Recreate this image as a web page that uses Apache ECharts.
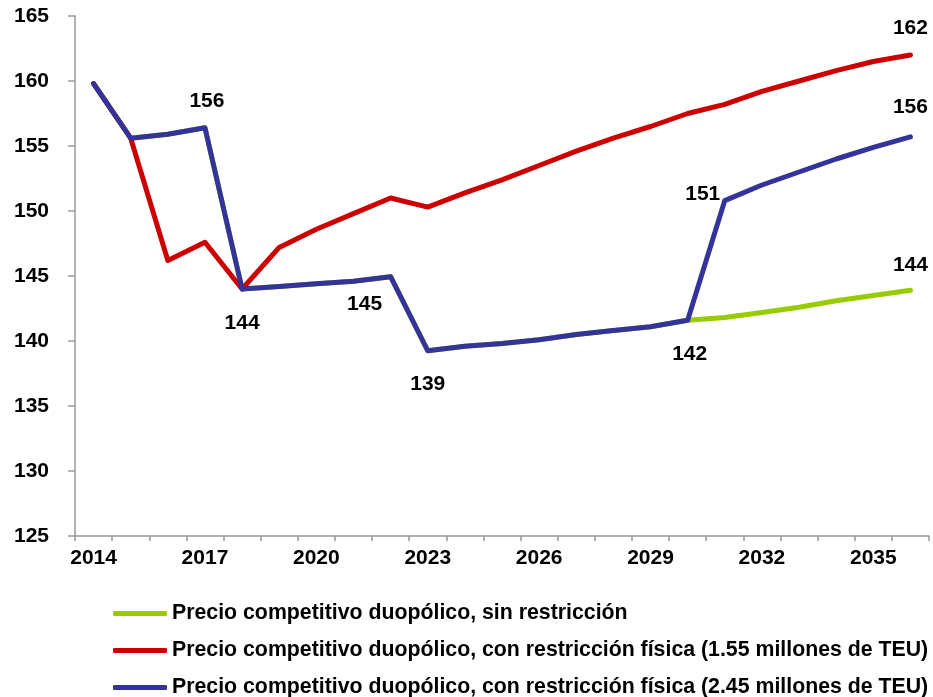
<!DOCTYPE html>
<html>
<head>
<meta charset="utf-8">
<script src="https://cdn.jsdelivr.net/npm/echarts@6/dist/echarts.min.js"></script>
<style>
html,body{margin:0;padding:0;background:#fff;}
#chart{width:933px;height:697px;}
</style>
</head>
<body>
<div id="chart"></div>
<script>
var years = ['2014','2015','2016','2017','2018','2019','2020','2021','2022','2023','2024','2025','2026','2027','2028','2029','2030','2031','2032','2033','2034','2035','2036'];
var seriesNames = [
  'Precio competitivo duopólico, sin restricción',
  'Precio competitivo duopólico, con restricción física (1.55 millones de TEU)',
  'Precio competitivo duopólico, con restricción física (2.45 millones de TEU)'
];
var greenValues = [159.8,155.6,155.9,156.4,144.0,144.2,144.4,144.6,144.95,139.25,139.6,139.8,140.1,140.5,140.8,141.1,141.6,141.8,142.2,142.6,143.1,143.5,143.9];
var redValues   = [159.8,155.6,146.2,147.6,144.0,147.2,148.6,149.8,151.0,150.3,151.4,152.4,153.5,154.6,155.6,156.5,157.5,158.2,159.2,160.0,160.8,161.5,162.0];
var blueValues  = [159.8,155.6,155.9,156.4,144.0,144.2,144.4,144.6,144.95,139.25,139.6,139.8,140.1,140.5,140.8,141.1,141.6,150.8,152.0,153.0,154.0,154.9,155.7];
var yMin = 125, yMax = 165, yStep = 5;

var FONT = '"Liberation Sans", Arial, sans-serif';
var FS = 21;
var labelBase = {show:true, color:'#000', fontWeight:'bold', fontSize:FS, fontFamily:FONT,
  align:'center', verticalAlign:'middle',
  formatter:function(p){return Math.round(p.value);}};

// label centre offsets from the point, per series: index -> [dx, dy]
var greenLabels = {22:[0,-25]};
var redLabels = {22:[0,-27]};
var blueLabels = {
  3:[2,-27],
  4:[0,34],
  8:[-26,28],
  9:[0,33],
  16:[2,34],
  17:[-22,-6],
  22:[0,-30]
};
function build(values, labels){
  return values.map(function(v,i){
    if(labels[i]){
      return {value:v, label:Object.assign({}, labelBase, {position:labels[i]})};
    }
    return v;
  });
}
var colors = ['#99CC00','#CC0000','#333399'];
var chart = echarts.init(document.getElementById('chart'), null, {renderer:'canvas'});
function mk(name, values, labels, color, z){
  return {
    name:name, type:'line', data:build(values, labels),
    symbol:'circle', symbolSize:0.01, showSymbol:true,
    lineStyle:{color:color, width:5, cap:'round', join:'round'},
    itemStyle:{color:color}, z:z, animation:false,
    label:{show:false},
    labelLayout:{hideOverlap:false}
  };
}
chart.setOption({
  animation:false,
  grid:{left:75, right:4, top:16, bottom:161, containLabel:false},
  legend:{
    orient:'vertical', left:113, top:603, height:120, itemGap:16, padding:0,
    itemWidth:54, itemHeight:5, icon:'roundRect',
    textStyle:{color:'#000', fontWeight:'bold', fontSize:21.3, fontFamily:FONT},
    data:seriesNames
  },
  xAxis:{
    type:'category', data:years, boundaryGap:true,
    axisLine:{lineStyle:{color:'#999', width:1.5}},
    axisTick:{show:true, interval:0, length:5, lineStyle:{color:'#999', width:1.5}},
    axisLabel:{interval:2, margin:12, color:'#000', fontWeight:'bold', fontSize:FS, fontFamily:FONT},
    splitLine:{show:false}
  },
  yAxis:{
    type:'value', min:yMin, max:yMax, interval:yStep,
    axisLine:{show:true, lineStyle:{color:'#999', width:1.5}},
    axisTick:{show:true, length:7, lineStyle:{color:'#999', width:1.5}},
    axisLabel:{margin:26, color:'#000', fontWeight:'bold', fontSize:FS, fontFamily:FONT},
    splitLine:{show:false}
  },
  series:[
    mk(seriesNames[0], greenValues, greenLabels, colors[0], 2),
    mk(seriesNames[1], redValues, redLabels, colors[1], 3),
    mk(seriesNames[2], blueValues, blueLabels, colors[2], 4)
  ]
});
</script>
</body>
</html>
